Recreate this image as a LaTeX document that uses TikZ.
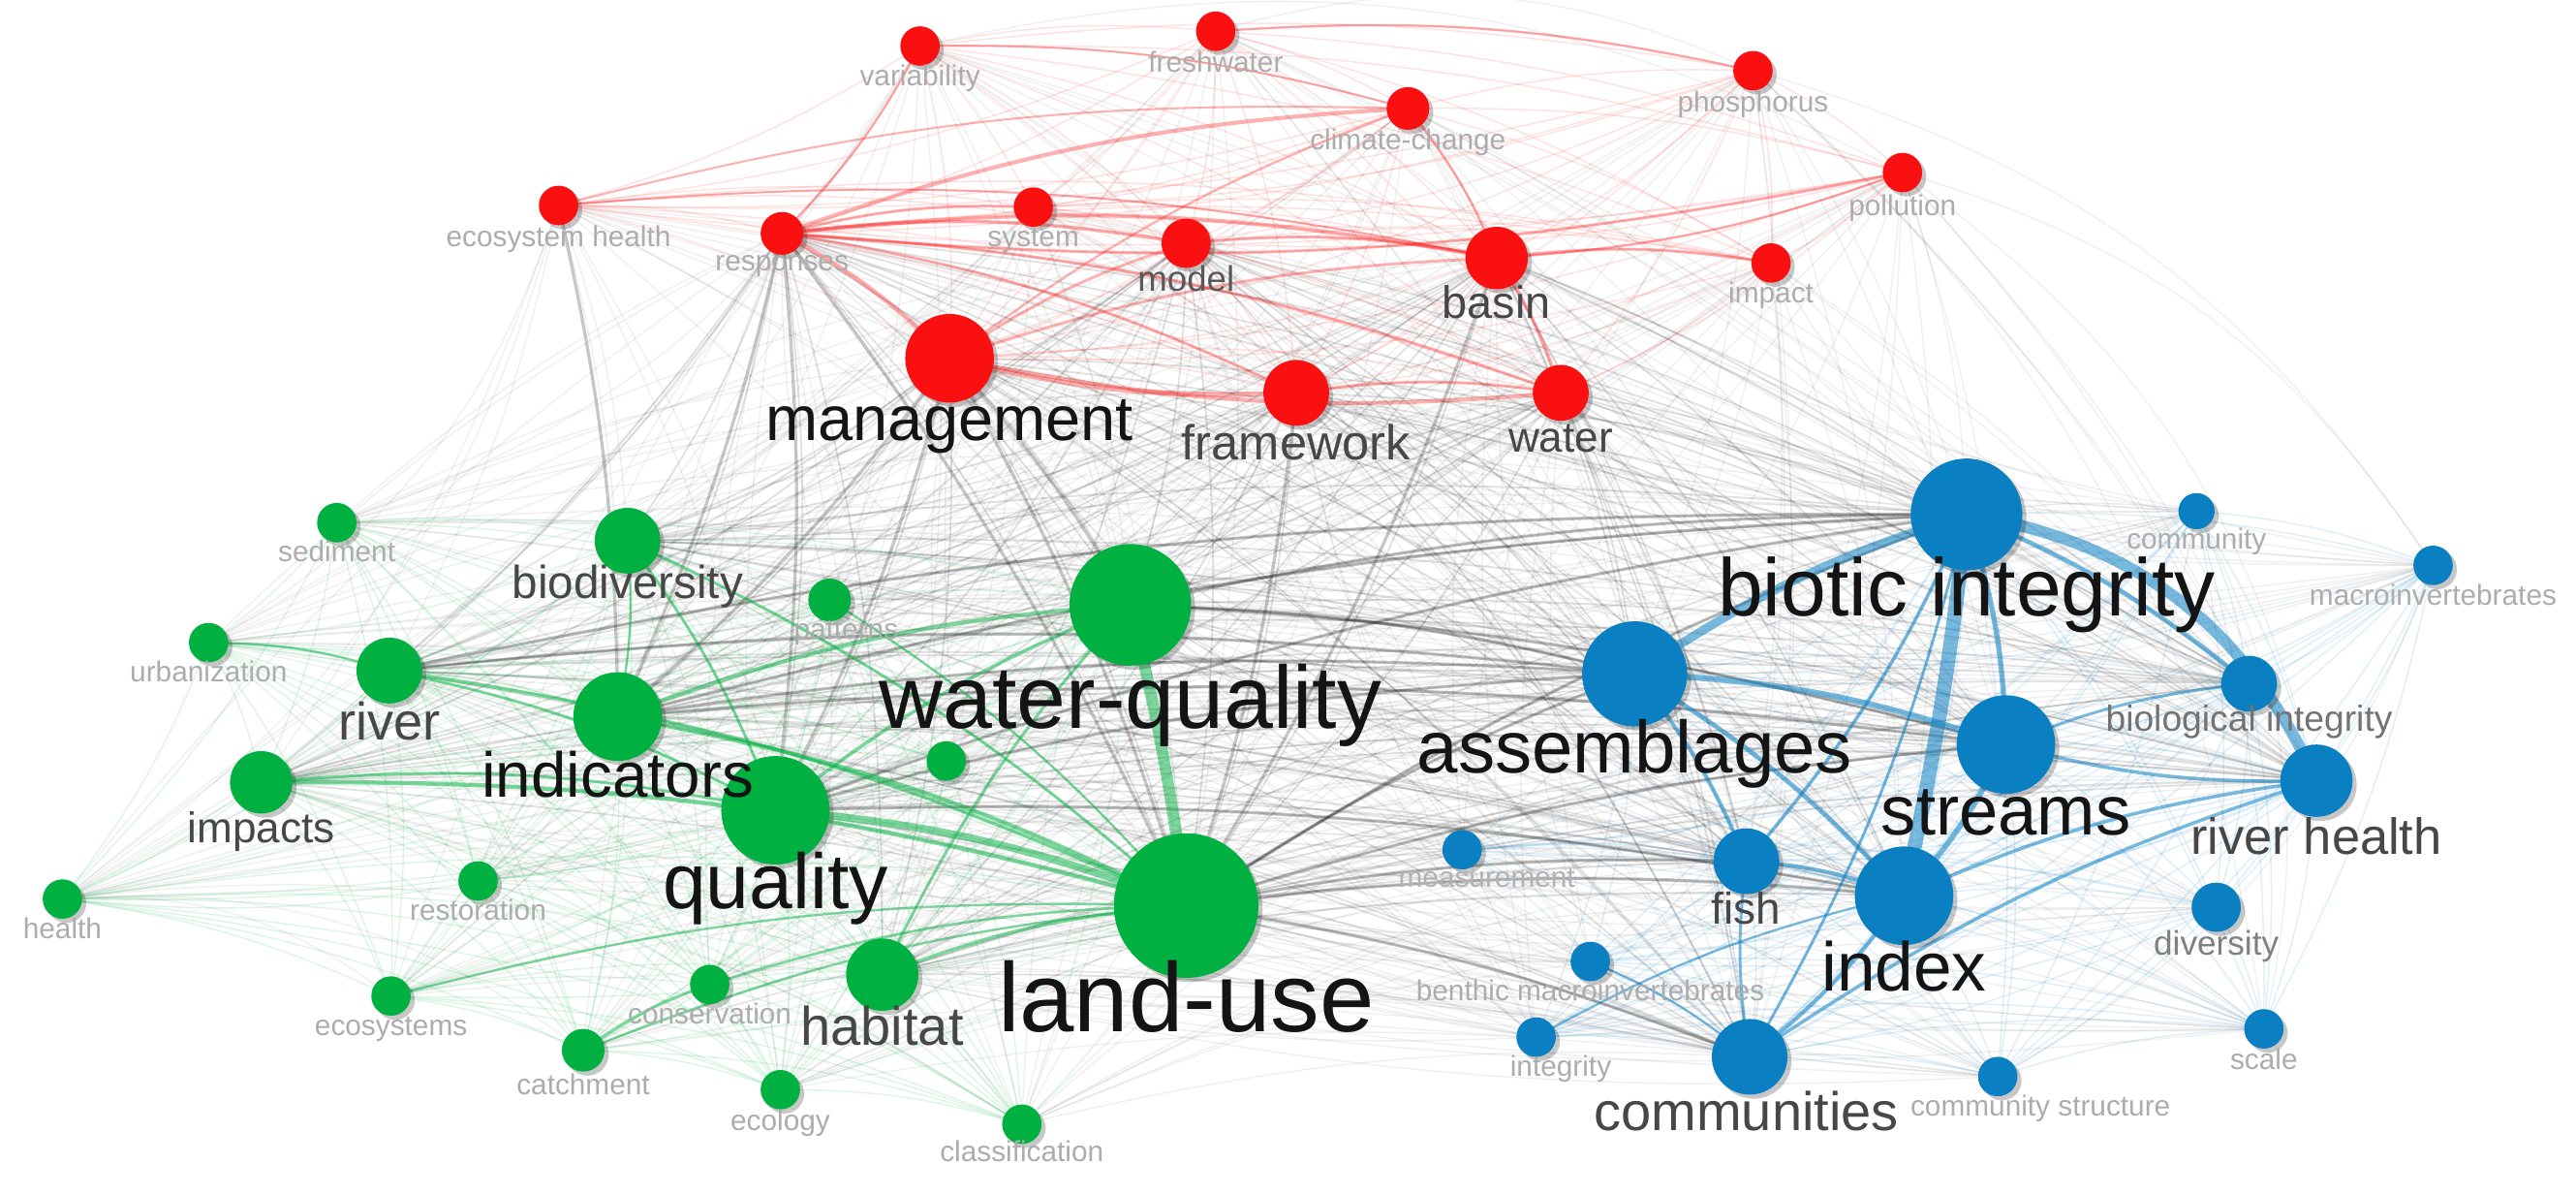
\documentclass[tikz,border=0pt]{standalone}
\usepackage{fontspec}
\setmainfont{Liberation Sans}
\usetikzlibrary{shadows}
\pgfdeclarelayer{edges}
\pgfsetlayers{edges,main}
\definecolor{cr}{RGB}{250,16,16}
\definecolor{cg}{RGB}{0,176,64}
\definecolor{cb}{RGB}{10,127,193}
\definecolor{lsm}{RGB}{172,172,172}
\newcommand\lfs[1]{\fontsize{#1}{#1}\selectfont}
\tikzset{
  vn/.style={circle, inner sep=0pt, minimum size=#1*0.4mm,
    drop shadow={shadow xshift=0.5mm, shadow yshift=-0.5mm, opacity=0.22, fill=black}},
  rn/.style={vn=#1, fill=cr},
  gn/.style={vn=#1, fill=cg},
  bn/.style={vn=#1, fill=cb},
  lab/.style={anchor=base, inner sep=0pt},
  sl/.style={lab, text=lsm, font=\lfs{10}},
  ml/.style={lab, text=black!72, font=\lfs{#1}},
  bl/.style={lab, text=black!92, font=\lfs{#1}},
  re/.style={draw=cr, opacity=0.12, line width=0.5pt},
  ge/.style={draw=cg, opacity=0.13, line width=0.5pt},
  be/.style={draw=cb, opacity=0.13, line width=0.5pt},
  rE/.style={draw=cr, opacity=0.32, line width=#1},
  gE/.style={draw=cg, opacity=0.5, line width=#1},
  bE/.style={draw=cb, opacity=0.55, line width=#1},
  ke/.style={draw=black, opacity=0.12, line width=0.6pt},
  kf/.style={draw=black, opacity=0.06, line width=0.5pt},
  kE/.style={draw=black, opacity=0.22, line width=1.1pt},
}
\def\Rall{var,fresh,clim,phos,poll,ecoh,resp,sys,model,basin,impact,mgmt,frame,water}
\def\Gall{sed,biod,patt,wq,urb,river,indic,impacts,qual,gsm,rest,health,lu,ecos,cons,hab,catch,ecol,classif}
\def\Ball{bi,comm,macro,assem,bioi,streams,rh,meas,fish,index,div,benthic,integ,comms,cstruct,scale}
\def\Rmaj{mgmt,frame,water,basin,resp,model}
\def\Gmaj{wq,lu,qual,indic,hab,biod,river,impacts}
\def\Bmaj{bi,assem,streams,index,fish,comms,rh,bioi}
\def\Rsm{var,fresh,clim,phos,poll,ecoh,sys,impact}
\def\Gsm{sed,patt,urb,gsm,rest,health,ecos,cons,catch,ecol,classif}
\def\Bsm{comm,macro,meas,div,benthic,integ,cstruct,scale}
\begin{document}
\begin{tikzpicture}[x=0.02cm, y=-0.02cm]
\useasboundingbox (0,0) rectangle (1568,727);
% ---------- red cluster
\node[rn=12] (var) at (560,28) {};
\node[rn=12] (fresh) at (740,19) {};
\node[rn=13] (clim) at (857,66) {};
\node[rn=12] (phos) at (1067,43) {};
\node[rn=12] (poll) at (1158,105) {};
\node[rn=12] (ecoh) at (340,125) {};
\node[rn=13] (resp) at (476,142) {};
\node[rn=12] (sys) at (629,126) {};
\node[rn=15] (model) at (722,148) {};
\node[rn=19] (basin) at (911,157) {};
\node[rn=12] (impact) at (1078,160) {};
\node[rn=27] (mgmt) at (578,218) {};
\node[rn=20] (frame) at (789,239) {};
\node[rn=17] (water) at (950,239) {};
% ---------- green cluster
\node[gn=12] (sed) at (205,318) {};
\node[gn=20] (biod) at (382,329) {};
\node[gn=13] (patt) at (505,365) {};
\node[gn=37] (wq) at (688,368) {};
\node[gn=12] (urb) at (127,391) {};
\node[gn=20] (river) at (237,408) {};
\node[gn=27] (indic) at (376,436) {};
\node[gn=19] (impacts) at (159,476) {};
\node[gn=33] (qual) at (472,493) {};
\node[gn=12] (gsm) at (576,463) {};
\node[gn=12] (rest) at (291,536) {};
\node[gn=12] (health) at (38,547) {};
\node[gn=44] (lu) at (722,551) {};
\node[gn=12] (ecos) at (238,606) {};
\node[gn=12] (cons) at (432,599) {};
\node[gn=22] (hab) at (537,593) {};
\node[gn=13] (catch) at (355,639) {};
\node[gn=12] (ecol) at (475,663) {};
\node[gn=12] (classif) at (622,684) {};
% ---------- blue cluster
\node[bn=34] (bi) at (1197,313) {};
\node[bn=11] (comm) at (1337,311) {};
\node[bn=12] (macro) at (1481,344) {};
\node[bn=32] (assem) at (995,410) {};
\node[bn=17] (bioi) at (1369,416) {};
\node[bn=30] (streams) at (1221,453) {};
\node[bn=22] (rh) at (1410,475) {};
\node[bn=12] (meas) at (890,517) {};
\node[bn=20] (fish) at (1063,524) {};
\node[bn=30] (index) at (1159,545) {};
\node[bn=15] (div) at (1349,552) {};
\node[bn=12] (benthic) at (968,585) {};
\node[bn=12] (integ) at (935,631) {};
\node[bn=23] (comms) at (1065,643) {};
\node[bn=12] (cstruct) at (1216,655) {};
\node[bn=12] (scale) at (1378,626) {};

\begin{pgfonlayer}{edges}
% faint links from small nodes to main nodes of other clusters
\foreach \a in \Rsm {\foreach \b in \Gmaj {\draw[kf] (\a.center) to[bend left=8] (\b.center);}
                     \foreach \b in \Bmaj {\draw[kf] (\a.center) to[bend left=8] (\b.center);}}
\foreach \a in \Gsm {\foreach \b in \Rmaj {\draw[kf] (\a.center) to[bend left=8] (\b.center);}
                     \foreach \b in \Bmaj {\draw[kf] (\a.center) to[bend left=8] (\b.center);}}
\foreach \a in \Bsm {\foreach \b in \Rmaj {\draw[kf] (\a.center) to[bend left=8] (\b.center);}
                     \foreach \b in \Gmaj {\draw[kf] (\a.center) to[bend left=8] (\b.center);}}
% gray links between main nodes of different clusters
\foreach \a in \Rmaj {\foreach \b in \Gmaj {\draw[ke] (\a.center) to[bend left=8] (\b.center);}
                      \foreach \b in \Bmaj {\draw[ke] (\a.center) to[bend left=8] (\b.center);}}
\foreach \a in \Gmaj {\foreach \b in \Bmaj {\draw[ke] (\a.center) to[bend left=6] (\b.center);}}
% stronger gray bundles
\foreach \a/\b in {wq/assem,wq/bi,lu/index,lu/assem,lu/streams,lu/bi,lu/fish,lu/comms,indic/assem,
  indic/bi,qual/assem,qual/bi,river/assem,wq/streams,mgmt/lu,mgmt/wq,mgmt/qual,resp/lu,resp/indic,
  mgmt/indic,frame/lu,basin/lu,river/bi,indic/streams,qual/index,resp/qual,ecoh/indic}
  {\draw[kE] (\a.center) to[bend left=6] (\b.center);}
% peripheral arcs
\foreach \a/\b in {ecoh/urb,ecoh/health,var/sed,poll/macro,phos/macro,poll/rh,phos/scale,health/classif,
  health/catch,health/ecos,urb/classif,macro/cstruct,comm/scale,var/poll,fresh/phos}
  {\draw[kf] (\a.center) to[bend left=20] (\b.center);}
% intra-cluster links
\foreach \a [count=\i] in \Rall {\foreach \b [count=\j] in \Rall {\ifnum\j>\i \draw[re] (\a.center) to[bend left=8] (\b.center);\fi}}
\foreach \a [count=\i] in \Gall {\foreach \b [count=\j] in \Gall {\ifnum\j>\i \draw[ge] (\a.center) to[bend left=8] (\b.center);\fi}}
\foreach \a [count=\i] in \Ball {\foreach \b [count=\j] in \Ball {\ifnum\j>\i \draw[be] (\a.center) to[bend left=8] (\b.center);\fi}}
% strong red links
\foreach \a/\b/\w in {resp/mgmt/1.6pt,resp/clim/1.4pt,resp/model/1.2pt,resp/basin/1.4pt,resp/sys/1pt,
  resp/frame/1pt,resp/water/1pt,frame/mgmt/1.8pt,water/mgmt/1.4pt,mgmt/basin/1pt,mgmt/model/1pt,
  mgmt/clim/0.8pt,basin/water/1.2pt,basin/impact/1pt,frame/water/1pt,clim/basin/0.8pt,poll/resp/1pt,
  fresh/phos/0.8pt,var/clim/0.7pt,ecoh/clim/0.7pt,ecoh/basin/0.7pt,poll/basin/0.8pt,model/basin/1pt,var/resp/0.8pt}
  {\draw[rE=\w] (\a.center) to[bend left=8] (\b.center);}
% strong green links
\foreach \a/\b/\w in {qual/lu/2.6pt,indic/lu/1.5pt,indic/wq/1.4pt,qual/wq/1.2pt,river/lu/1.2pt,
  impacts/lu/1.5pt,hab/lu/1.2pt,biod/lu/1pt,biod/qual/1pt,impacts/qual/1pt,river/qual/1pt,cons/lu/0.9pt,
  catch/lu/0.8pt,catch/cons/1pt,ecos/lu/0.8pt,patt/lu/0.8pt,hab/wq/1pt,urb/river/0.8pt,biod/indic/0.8pt}
  {\draw[gE=\w] (\a.center) to[bend left=8] (\b.center);}
\draw[gE=4pt] (wq.center) to[bend left=3] (lu.center);
% strong blue links
\draw[bE=5pt] (bi.center) to[bend left=3] (index.center);
\draw[bE=4pt] (bi.center) to[bend left=28] (rh.center);
\foreach \a/\b/\w in {bi/streams/1.8pt,assem/bi/3pt,bi/bioi/1.6pt,assem/streams/2pt,streams/index/2pt,
  assem/fish/1.4pt,assem/index/1.6pt,index/comms/1.5pt,fish/index/1.4pt,rh/streams/1.2pt,bi/fish/1.2pt,
  comms/rh/1.2pt,index/rh/1.2pt,bi/comms/1pt,streams/bioi/1pt,comms/fish/1pt,integ/index/0.8pt,benthic/comms/0.8pt}
  {\draw[bE=\w] (\a.center) to[bend left=8] (\b.center);}
\end{pgfonlayer}

% ---------- labels
\node[sl] (l-var) at (560,52) {variability};
\node[sl] (l-fresh) at (740,44) {freshwater};
\node[sl] (l-clim) at (857,91) {climate-change};
\node[sl] (l-phos) at (1067,68) {phosphorus};
\node[sl] (l-poll) at (1158,131) {pollution};
\node[sl] (l-ecoh) at (340,150) {ecosystem health};
\node[sl] (l-resp) at (476,165) {responses};
\node[sl] (l-sys) at (629,150) {system};
\node[ml=12.3, text=black!65] (l-model) at (722,177) {model};
\node[ml=15.7] (l-basin) at (911,194) {basin};
\node[sl] (l-impact) at (1078,184) {impact};
\node[bl=21.8] (l-mgmt) at (578,268) {management};
\node[ml=17] (l-frame) at (789,280) {framework};
\node[ml=14.8] (l-water) at (950,275) {water};
\node[sl] (l-sed) at (205,342) {sediment};
\node[ml=16] (l-biod) at (382,364) {biodiversity};
\node[sl] (l-patt) at (515,389) {patterns};
\node[bl=30.7] (l-wq) at (688,443) {water-quality};
\node[sl] (l-urb) at (127,415) {urbanization};
\node[ml=18.2] (l-river) at (237,450) {river};
\node[bl=22] (l-indic) at (376,485) {indicators};
\node[ml=14.8] (l-impacts) at (159,513) {impacts};
\node[bl=27] (l-qual) at (472,553) {quality};
\node[sl] (l-rest) at (291,560) {restoration};
\node[sl] (l-health) at (38,571) {health};
\node[bl=34] (l-lu) at (722,628) {land-use};
\node[sl] (l-ecos) at (238,630) {ecosystems};
\node[sl] (l-cons) at (432,623) {conservation};
\node[ml=18.8] (l-hab) at (537,636) {habitat};
\node[sl] (l-catch) at (355,666) {catchment};
\node[sl] (l-ecol) at (475,688) {ecology};
\node[sl] (l-classif) at (622,707) {classification};
\node[bl=28.2] (l-bi) at (1197,375) {biotic integrity};
\node[sl] (l-comm) at (1337,334) {community};
\node[sl] (l-macro) at (1481,368) {macroinvertebrates};
\node[bl=25.6] (l-assem) at (995,470) {assemblages};
\node[ml=12.5, text=black!55] (l-bioi) at (1369,445) {biological integrity};
\node[bl=24.3] (l-streams) at (1221,508) {streams};
\node[ml=17.6] (l-rh) at (1410,520) {river health};
\node[sl, text=black!30] (l-meas) at (905,540) {measurement};
\node[ml=15.4] (l-fish) at (1063,562) {fish};
\node[bl=23.9] (l-index) at (1159,603) {index};
\node[ml=11.8, text=black!50] (l-div) at (1349,581) {diversity};
\node[sl] (l-benthic) at (968,609) {benthic macroinvertebrates};
\node[sl] (l-integ) at (950,655) {integrity};
\node[ml=18.8] (l-comms) at (1063,688) {communities};
\node[sl] (l-cstruct) at (1242,679) {community structure};
\node[sl] (l-scale) at (1378,651) {scale};
\end{tikzpicture}
\end{document}
